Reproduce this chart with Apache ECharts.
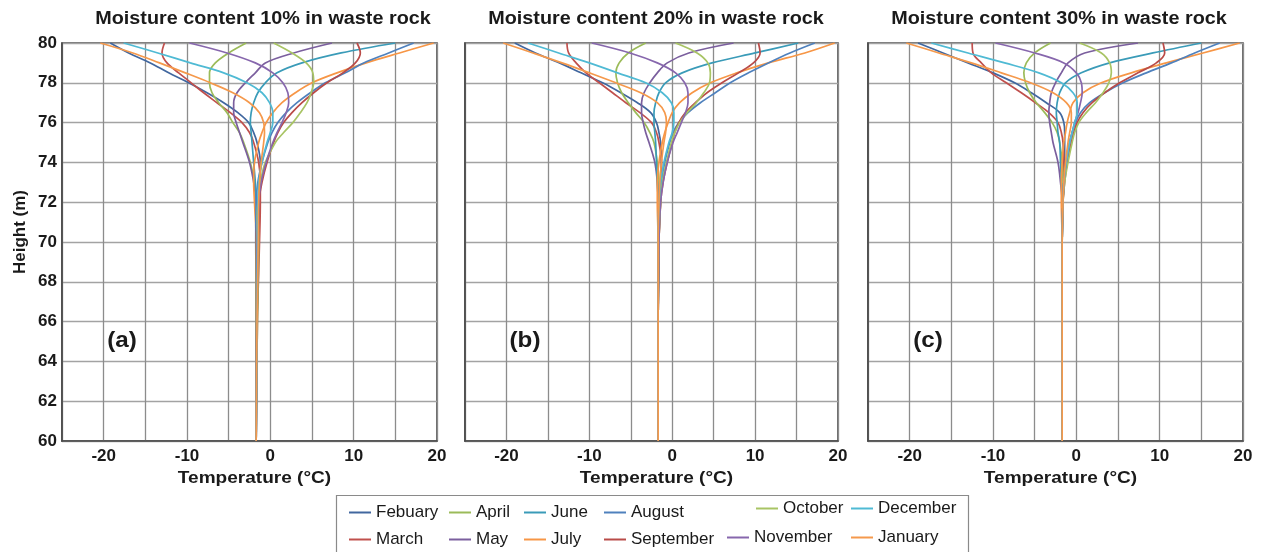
<!DOCTYPE html>
<html>
<head>
<meta charset="utf-8">
<script src="https://cdn.jsdelivr.net/npm/echarts@6/dist/echarts.min.js"></script>
<style>
  html, body { margin: 0; padding: 0; background: #fff; }
  #chart { width: 1267px; height: 552px; }
</style>
</head>
<body>
<div id="chart"></div>
<script>
// Heights (m) at which each monthly temperature profile is sampled
const heights = [80, 79.5, 79, 78.5, 78, 77.5, 77, 76.5, 76, 75.5, 75, 74, 73, 72, 70, 66, 60];

const months = ['Febuary', 'March', 'April', 'May', 'June', 'July',
                'August', 'September', 'October', 'November', 'December', 'January'];

const monthColors = ['#41679f', '#c0504d', '#9bbb59', '#7b5f9e', '#3a9bb8', '#f79646',
                     '#4f81bd', '#b94b48', '#a8c464', '#8767ad', '#4fbad4', '#f5994c'];

const panelTitles = ['Moisture content 10% in waste rock',
                     'Moisture content 20% in waste rock',
                     'Moisture content 30% in waste rock'];
const panelTags = ['(a)', '(b)', '(c)'];

const xTicks = { min: -25, max: 20, step: 5 };
const yTicks = { min: 60, max: 80, step: 2 };

// Temperature (°C) profiles, moisture content 10 %
const feb10 = [-19.2, -17.0, -14.4, -12.2, -9.8, -7.6, -5.6, -3.9, -2.6, -2.0, -1.6, -1.2, -1.2, -1.3, -1.4, -1.6, -1.7];
const mar10 = [-12.7, -13.0, -12.4, -11.0, -9.5, -8.0, -6.4, -4.8, -3.4, -2.5, -2.0, -1.4, -1.2, -1.2, -1.3, -1.55, -1.7];
const apr10 = [-2.9, -5.0, -6.6, -7.3, -7.3, -7.0, -6.2, -5.2, -4.5, -3.7, -3.2, -2.4, -1.9, -1.6, -1.4, -1.55, -1.7];
const may10 = [7.4, 2.8, -0.6, -1.8, -3.0, -4.0, -4.4, -4.4, -4.1, -3.7, -3.3, -2.5, -2.0, -1.7, -1.5, -1.6, -1.7];
const jun10 = [15.0, 8.5, 3.8, 0.8, -0.6, -1.5, -2.0, -2.3, -2.4, -2.3, -2.2, -2.0, -1.8, -1.7, -1.6, -1.65, -1.7];
const jul10 = [19.6, 15.5, 11.5, 8.0, 5.0, 3.0, 1.4, 0.3, -0.5, -1.0, -1.4, -1.9, -2.0, -1.9, -1.7, -1.7, -1.7];
const aug10 = [17.2, 14.2, 11.2, 9.0, 6.6, 4.8, 3.2, 1.9, 0.9, 0.2, -0.3, -1.0, -1.5, -1.7, -1.75, -1.7, -1.7];
const sep10 = [10.4, 10.8, 10.2, 8.7, 6.8, 5.2, 3.8, 2.6, 1.6, 0.9, 0.4, -0.4, -1.0, -1.4, -1.7, -1.7, -1.7];
const oct10 = [0.4, 2.6, 4.3, 5.1, 5.2, 4.9, 4.4, 3.6, 2.7, 1.6, 0.6, -0.6, -1.2, -1.5, -1.65, -1.7, -1.7];
const nov10 = [-9.7, -5.2, -1.8, 0.3, 1.5, 2.1, 2.2, 1.9, 1.4, 0.8, 0.3, -0.5, -1.1, -1.4, -1.6, -1.65, -1.7];
const dec10 = [-17.6, -13.5, -9.6, -5.6, -2.8, -1.0, -0.1, 0.3, 0.3, 0.0, -0.4, -1.0, -1.4, -1.5, -1.55, -1.6, -1.7];
const jan10 = [-20.4, -16.5, -13.3, -10.2, -7.2, -4.5, -2.5, -1.3, -0.8, -0.7, -0.8, -1.1, -1.3, -1.4, -1.45, -1.6, -1.7];

// Temperature (°C) profiles, moisture content 20 %
const feb20 = [-19.0, -16.5, -13.6, -11.0, -8.4, -6.2, -4.2, -2.6, -1.9, -1.6, -1.4, -1.3, -1.4, -1.5, -1.6, -1.7, -1.7];
const mar20 = [-12.7, -12.5, -11.6, -10.4, -8.8, -7.2, -5.6, -3.9, -2.5, -1.9, -1.6, -1.3, -1.3, -1.4, -1.6, -1.7, -1.7];
const apr20 = [-3.2, -5.3, -6.4, -6.8, -6.6, -6.1, -5.3, -4.4, -3.4, -2.7, -2.2, -1.8, -1.6, -1.6, -1.6, -1.7, -1.7];
const may20 = [7.4, 2.0, -0.6, -1.8, -2.7, -3.4, -3.7, -3.7, -3.5, -3.2, -2.8, -2.1, -1.8, -1.7, -1.6, -1.7, -1.7];
const jun20 = [15.2, 10.0, 4.8, 1.2, -0.8, -1.6, -2.0, -2.2, -2.2, -2.1, -2.0, -1.9, -1.8, -1.7, -1.7, -1.7, -1.7];
const jul20 = [19.6, 16.0, 11.6, 7.8, 4.6, 2.4, 0.9, 0.0, -0.5, -0.9, -1.2, -1.6, -1.8, -1.8, -1.7, -1.7, -1.7];
const aug20 = [17.2, 14.2, 11.6, 9.2, 7.0, 5.2, 3.4, 1.9, 0.8, 0.1, -0.3, -0.9, -1.3, -1.5, -1.6, -1.7, -1.7];
const sep20 = [10.4, 10.6, 9.8, 8.0, 6.0, 4.2, 2.8, 1.6, 0.8, 0.3, 0.0, -0.6, -1.1, -1.4, -1.6, -1.7, -1.7];
const oct20 = [0.4, 3.0, 4.3, 4.6, 4.5, 3.8, 2.9, 1.8, 0.9, 0.3, -0.1, -0.7, -1.2, -1.4, -1.6, -1.7, -1.7];
const nov20 = [-9.7, -5.1, -1.8, 0.4, 1.5, 1.9, 1.9, 1.6, 1.1, 0.6, 0.1, -0.6, -1.1, -1.4, -1.6, -1.7, -1.7];
const dec20 = [-17.4, -13.7, -10.0, -6.6, -3.2, -1.2, -0.1, 0.2, 0.2, 0.0, -0.4, -1.0, -1.4, -1.6, -1.7, -1.7, -1.7];
const jan20 = [-20.4, -16.8, -13.3, -10.0, -6.8, -3.8, -1.8, -0.9, -0.7, -0.8, -1.0, -1.3, -1.5, -1.6, -1.7, -1.7, -1.7];

// Temperature (°C) profiles, moisture content 30 %
const feb30 = [-19.0, -16.0, -13.0, -10.0, -7.4, -5.4, -3.6, -2.0, -1.5, -1.4, -1.4, -1.4, -1.5, -1.6, -1.7, -1.7, -1.7];
const mar30 = [-12.5, -12.4, -11.4, -10.2, -8.4, -6.6, -4.9, -3.3, -2.2, -1.8, -1.6, -1.5, -1.5, -1.6, -1.7, -1.7, -1.7];
const apr30 = [-3.1, -5.0, -6.0, -6.3, -6.1, -5.6, -4.8, -3.8, -2.9, -2.3, -2.0, -1.7, -1.6, -1.6, -1.7, -1.7, -1.7];
const may30 = [7.4, 1.0, -1.0, -1.8, -2.5, -3.0, -3.2, -3.3, -3.2, -3.0, -2.8, -2.2, -1.9, -1.7, -1.7, -1.7, -1.7];
const jun30 = [15.0, 9.2, 4.0, 0.6, -1.3, -2.0, -2.3, -2.4, -2.3, -2.2, -2.0, -1.9, -1.8, -1.7, -1.7, -1.7, -1.7];
const jul30 = [19.6, 15.2, 10.8, 6.6, 3.0, 0.8, -0.4, -0.8, -1.1, -1.3, -1.5, -1.7, -1.8, -1.8, -1.7, -1.7, -1.7];
const aug30 = [17.2, 14.2, 11.4, 8.4, 5.6, 3.4, 1.6, 0.5, -0.1, -0.5, -0.8, -1.2, -1.5, -1.6, -1.7, -1.7, -1.7];
const sep30 = [10.4, 10.6, 9.6, 7.4, 5.2, 3.4, 1.9, 0.8, 0.1, -0.3, -0.6, -1.1, -1.4, -1.6, -1.7, -1.7, -1.7];
const oct30 = [0.4, 3.0, 4.0, 4.2, 3.9, 3.2, 2.3, 1.2, 0.3, -0.2, -0.5, -1.0, -1.4, -1.6, -1.7, -1.7, -1.7];
const nov30 = [-9.7, -5.0, -1.5, 0.0, 0.6, 0.7, 0.5, 0.2, -0.2, -0.5, -0.8, -1.2, -1.5, -1.6, -1.7, -1.7, -1.7];
const dec30 = [-17.4, -13.0, -8.6, -4.5, -1.8, -0.4, 0.1, 0.1, -0.2, -0.5, -0.8, -1.2, -1.5, -1.6, -1.7, -1.7, -1.7];
const jan30 = [-20.4, -16.5, -12.6, -9.0, -5.5, -2.8, -1.2, -0.6, -0.6, -0.8, -1.0, -1.3, -1.5, -1.6, -1.7, -1.7, -1.7];

const panelProfiles = [
  [feb10, mar10, apr10, may10, jun10, jul10, aug10, sep10, oct10, nov10, dec10, jan10],
  [feb20, mar20, apr20, may20, jun20, jul20, aug20, sep20, oct20, nov20, dec20, jan20],
  [feb30, mar30, apr30, may30, jun30, jul30, aug30, sep30, oct30, nov30, dec30, jan30]
];

// ---- layout ----
const FONT = '"Liberation Sans", Arial, sans-serif';
const INK = '#1a1a1a';
const gridBoxes = [
  { left: 62, width: 375 },
  { left: 465, width: 373 },
  { left: 868, width: 375 }
];
const titleCenters = [263, 656, 1059];
const gridTop = 43, gridHeight = 398;

const grids = gridBoxes.map(b => ({
  left: b.left, top: gridTop, width: b.width, height: gridHeight,
  show: true, borderColor: '#4a4a4a', borderWidth: 1.6, backgroundColor: 'transparent'
}));

const xAxes = gridBoxes.map((b, i) => ({
  type: 'value', gridIndex: i,
  min: xTicks.min, max: xTicks.max, interval: xTicks.step,
  axisLine: { show: true, onZero: false, lineStyle: { color: '#4a4a4a', width: 1.6 } },
  axisTick: { show: false },
  axisLabel: {
    fontFamily: FONT, fontSize: 17, fontWeight: 'bold', color: INK, margin: 7,
    formatter: v => (v % 10 === 0 ? String(v) : '')
  },
  splitLine: { show: true, lineStyle: { color: '#8c8c8c', width: 1.3 } }
}));

const yAxes = gridBoxes.map((b, i) => ({
  type: 'value', gridIndex: i,
  min: yTicks.min, max: yTicks.max, interval: yTicks.step,
  axisLine: { show: true, onZero: false, lineStyle: { color: '#4a4a4a', width: 1.6 } },
  axisTick: { show: false },
  axisLabel: {
    show: i === 0, fontFamily: FONT, fontSize: 17, fontWeight: 'bold', color: INK, margin: 5
  },
  splitLine: { show: true, lineStyle: { color: '#a3a3a3', width: 1.3 } }
}));

const series = [];
panelProfiles.forEach((profiles, p) => {
  profiles.forEach((temps, m) => {
    series.push({
      type: 'line', name: months[m], xAxisIndex: p, yAxisIndex: p,
      data: heights.map((h, k) => [temps[k], h]),
      smooth: 0.35, showSymbol: false, symbol: 'none',
      lineStyle: { width: 1.7, color: monthColors[m] },
      itemStyle: { color: monthColors[m] },
      z: 3
    });
  });
});

// Legend: two rows, one legend component per entry
const legendSpots = [
  [349, 504], [349, 531], [449, 504], [449, 531], [524, 504], [524, 531],
  [604, 504], [604, 531], [756, 500], [727, 529], [851, 500], [851, 529]
];
const legends = months.map((name, i) => ({
  data: [name],
  left: legendSpots[i][0], top: legendSpots[i][1],
  icon: 'rect', itemWidth: 22, itemHeight: 2, itemGap: 0,
  textStyle: { fontFamily: FONT, fontSize: 17, color: INK },
  selectedMode: false, padding: 0
}));

// Titles, axis names, panel tags and legend frame
const graphics = [
  { type: 'rect', shape: { x: 336.5, y: 495.5, width: 632, height: 70 },
    style: { fill: 'none', stroke: '#8a8a8a', lineWidth: 1.2 }, z: 0 },
  { type: 'text', x: 20, y: 232, rotation: Math.PI / 2,
    style: { text: 'Height (m)', font: 'bold 17px ' + FONT, fill: INK,
             textAlign: 'center', textVerticalAlign: 'middle' }, z: 10 }
];
gridBoxes.forEach((b, i) => {
  const cx = b.left + b.width / 2;
  graphics.push({
    type: 'text', x: titleCenters[i], y: 19, scaleX: 1.1,
    style: { text: panelTitles[i], font: 'bold 18px ' + FONT, fill: INK,
             textAlign: 'center', textVerticalAlign: 'middle' }, z: 10
  });
  graphics.push({
    type: 'text', x: cx + 5, y: 478, scaleX: 1.12,
    style: { text: 'Temperature (°C)', font: 'bold 17px ' + FONT, fill: INK,
             textAlign: 'center', textVerticalAlign: 'middle' }, z: 10
  });
  graphics.push({
    type: 'text', x: b.left + 60, y: 341, scaleX: 1.1,
    style: { text: panelTags[i], font: 'bold 22px ' + FONT, fill: INK,
             textAlign: 'center', textVerticalAlign: 'middle' }, z: 10
  });
});

const chart = echarts.init(document.getElementById('chart'), null, { renderer: 'canvas' });
chart.setOption({
  animation: false,
  backgroundColor: '#ffffff',
  grid: grids,
  xAxis: xAxes,
  yAxis: yAxes,
  legend: legends,
  graphic: graphics,
  series: series
});
</script>
</body>
</html>
